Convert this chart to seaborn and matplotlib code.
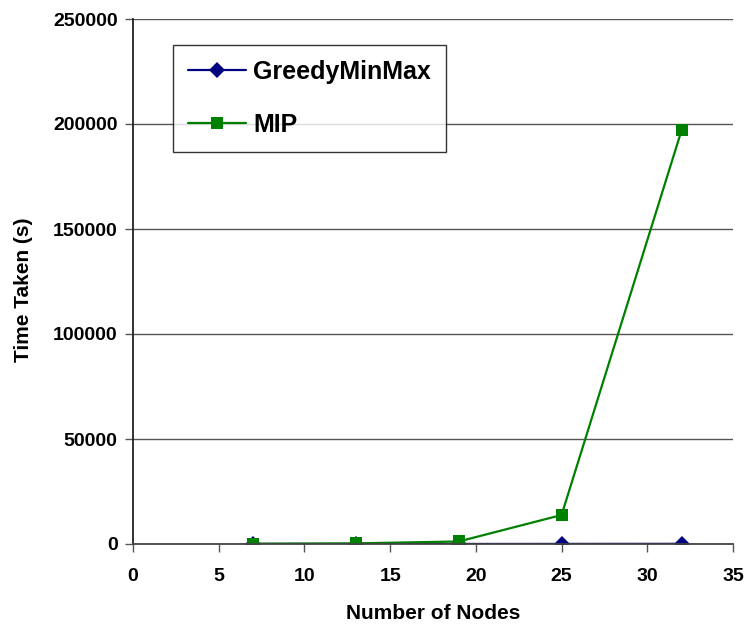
import matplotlib
matplotlib.use("Agg")
import matplotlib.pyplot as plt
import seaborn as sns
import pandas as pd

nodes = [7, 13, 19, 25, 32]
greedy = [5, 10, 20, 40, 80]
mip = [150, 300, 1200, 13800, 197000]
series_names = ["GreedyMinMax", "MIP"]

sns.set_theme(style="white")
plt.rcParams['font.family'] = ['Liberation Sans', 'DejaVu Sans']
plt.rcParams['font.weight'] = 'bold'
plt.rcParams['text.color'] = 'black'
plt.rcParams['axes.labelcolor'] = 'black'
plt.rcParams['xtick.color'] = 'black'
plt.rcParams['ytick.color'] = 'black'

df = pd.DataFrame({
    "Nodes": nodes * 2,
    "Time": greedy + mip,
    "Series": [series_names[0]] * len(nodes) + [series_names[1]] * len(nodes),
})

fig = plt.figure(figsize=(7.48, 6.27), dpi=100)
ax = fig.add_axes([133/748, (627-544)/627, 600/748, 525/627])

sns.lineplot(data=df, x="Nodes", y="Time", hue="Series", style="Series",
             palette={"GreedyMinMax": "#000080", "MIP": "#008000"},
             markers={"GreedyMinMax": "D", "MIP": "s"}, dashes=False,
             markersize=8, linewidth=1.6, markeredgewidth=0, ax=ax)

ax.set_xlim(0, 35)
ax.set_ylim(0, 250000)
ax.set_xticks(range(0, 36, 5))
ax.set_yticks(range(0, 250001, 50000))
ax.yaxis.grid(True, color="#555555", linewidth=1.0)
ax.set_axisbelow(True)
for s in ["top", "right"]:
    ax.spines[s].set_visible(False)
ax.spines["left"].set_color("#222222")
ax.spines["bottom"].set_color("#444444")
for s in ["left", "bottom"]:
    ax.spines[s].set_linewidth(1.3)
ax.tick_params(axis="both", direction="out", length=6, width=1, color="#555555",
               labelsize=14, left=True, bottom=True)
ax.tick_params(axis="x", pad=11)
ax.tick_params(axis="y", pad=5)
for lbl in ax.get_xticklabels() + ax.get_yticklabels():
    lbl.set_fontweight("bold")
ax.set_xlabel("Number of Nodes", fontsize=15, fontweight="bold", labelpad=14)
ax.set_ylabel("Time Taken (s)", fontsize=15, fontweight="bold", labelpad=14)
ax.yaxis.set_label_coords(-0.166, 0.485)

leg = ax.legend(loc="upper left", bbox_to_anchor=(40/600, 1 - 26/525),
                prop={"size": 18, "weight": "bold"}, frameon=True, fancybox=False,
                edgecolor="black", borderpad=0.6, labelspacing=1.15, handlelength=2.3,
                handletextpad=0.3, borderaxespad=0)
leg.get_frame().set_linewidth(1.0)
for line in leg.get_lines():
    line.set_linewidth(1.6)

fig.savefig("out.png", dpi=100)
